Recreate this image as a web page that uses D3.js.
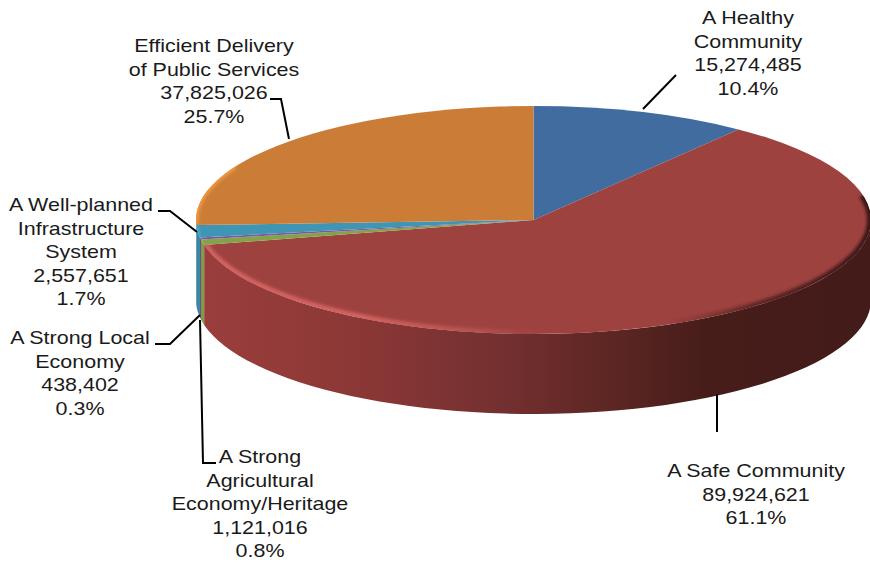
<!DOCTYPE html>
<html><head><meta charset="utf-8">
<script src="https://cdn.jsdelivr.net/npm/d3@7"></script>
<style>html,body{margin:0;background:#fff}svg{display:block}text{font-family:"Liberation Sans",Arial,sans-serif;font-size:19px;fill:#1a1a1a}</style>
</head><body><svg id="c" width="870" height="566"></svg>
<script>
const names=[["A Healthy","Community"],["A Safe Community"],["A Strong","Agricultural","Economy/Heritage"],["A Strong Local","Economy"],["A Well-planned","Infrastructure","System"],["Efficient Delivery","of Public Services"]];
const values=[15274485,89924621,1121016,438402,2557651,37825026];
const topColors=["#406c9f","#9e4240","#85a24a","#7a5a9c","#3f95b4","#cb7d37"];
const wallColors=["#345a85","#8a3735","#7f9b46","#6a4e88","#3a87a5","#3a87a5"];
const labelX=[748,756,260,80,81,214];
const labelY=[24,477,463,344,211,52];
const leaders=[
 [[643,109],[676,75]],
 [[717,394],[717,432]],
 [[200,320],[203,463],[216,463]],
 [[200,315],[170,344],[155,344]],
 [[197,232],[170,211],[158,211]],
 [[289,139],[281,99],[270,99]]];

const cx=533.5,cy=220,rx=337.5,ry=114,depth=80;
const svg=d3.select("#c"),defs=svg.append("defs");
const sx=d3.scaleLinear().domain([-1,1]).range([cx-rx,cx+rx]);
const sy=d3.scaleLinear().domain([-1,1]).range([cy-ry,cy+ry]);
const pie=d3.pie().sort(null).value(d=>d)(values);
const total=d3.sum(values),pct=d3.format(".1%"),num=d3.format(",");

// wall shading
const g=defs.append("linearGradient").attr("id","wall").attr("gradientUnits","userSpaceOnUse")
 .attr("x1",200).attr("x2",870).attr("y1",0).attr("y2",0);
[[0,"#9a3e3c"],[.2,"#8e3937"],[.45,"#743030"],[.62,"#5c2623"],[.75,"#471d1a"],[1,"#431b18"]]
 .forEach(s=>g.append("stop").attr("offset",s[0]).attr("stop-color",s[1]));
const b=defs.append("linearGradient").attr("id","rim").attr("gradientUnits","userSpaceOnUse")
 .attr("x1",200).attr("x2",870).attr("y1",0).attr("y2",0);
[[0,"#d2625f",1],[.25,"#d2625f",1],[.42,"#c25a58",.6],[.53,"#9e4240",0],[.7,"#4a1f1c",0],[.82,"#4a1f1c",.7],[1,"#3a1512",1]]
 .forEach(s=>b.append("stop").attr("offset",s[0]).attr("stop-color",s[1]).attr("stop-opacity",s[2]));
defs.append("filter").attr("id","blur").attr("x","-5%").attr("y","-5%").attr("width","110%").attr("height","110%")
 .append("feGaussianBlur").attr("stdDeviation",1.8);

const area=d3.area().x(a=>sx(Math.sin(a))).y0(a=>sy(-Math.cos(a))).y1(a=>sy(-Math.cos(a))+depth);
const sampled=(a0,a1)=>d3.range(0,61).map(i=>a0+(a1-a0)*i/60);
const front=[Math.PI/2,Math.PI*1.5];

// walls
const wallG=svg.append("g");
pie.forEach((p,i)=>{
 const a0=Math.max(p.startAngle,front[0]),a1=Math.min(p.endAngle,front[1]);
 if(a1<=a0)return;
 wallG.append("path").attr("d",area(sampled(a0,a1))).attr("fill",i===1?"url(#wall)":wallColors[i]);
});

// top faces
const arc=d3.arc().innerRadius(0).outerRadius(rx);
const faceT=`translate(${cx},${cy}) scale(1,${ry/rx})`;
const topG=svg.append("g").attr("transform",faceT);
topG.selectAll("path").data(pie).join("path").attr("d",arc).attr("fill",(d,i)=>topColors[i]);

// bevels
const rimLine=d3.line().x(a=>sx(Math.sin(a))).y(a=>sy(-Math.cos(a)));
const bevel=(i,a0,a1,stroke,w)=>{
 defs.append("clipPath").attr("id","clip"+i).append("path").attr("transform",faceT).attr("d",arc(pie[i]));
 svg.append("g").attr("clip-path",`url(#clip${i})`).append("path")
  .attr("d",rimLine(sampled(a0,a1))).attr("fill","none").attr("stroke",stroke)
  .attr("stroke-width",w).attr("filter","url(#blur)");
};
bevel(1,1.35,pie[1].endAngle,"url(#rim)",8);
bevel(5,pie[5].startAngle,5.2,"#f2983f",5);
bevel(4,pie[4].startAngle,pie[4].endAngle,"#4aa6c6",4);

// leaders
const line=d3.line();
svg.append("g").selectAll("path").data(leaders).join("path").attr("d",line)
 .attr("fill","none").attr("stroke","#000").attr("stroke-width",2);

// labels
const lh=23.6;
pie.forEach((p,i)=>{
 const rows=[...names[i],num(values[i]),pct(values[i]/total)];
 const t=svg.append("text").attr("text-anchor","middle")
  .attr("transform",`translate(${labelX[i]},${labelY[i]}) scale(1.13,1)`);
 rows.forEach((r,j)=>t.append("tspan").attr("x",0).attr("y",j*lh).text(r));
});
</script></body></html>
